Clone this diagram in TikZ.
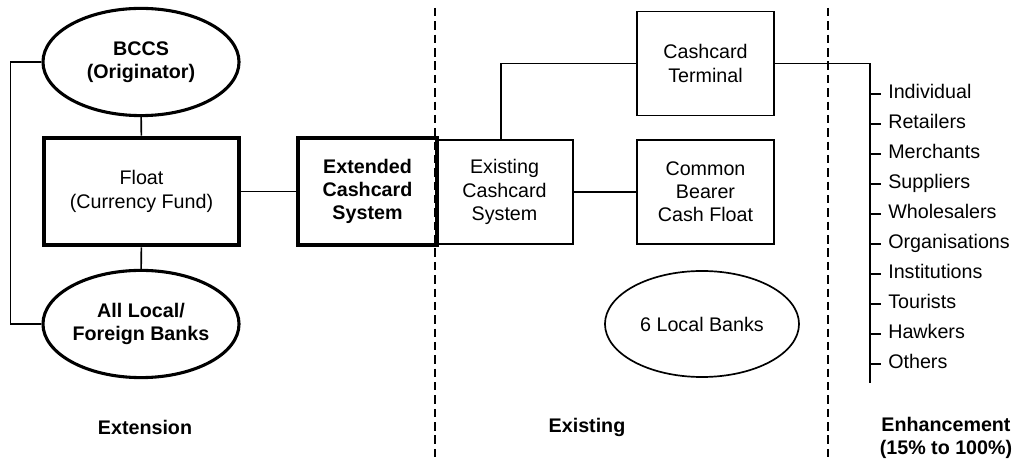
\documentclass[tikz,border=0pt]{standalone}
\usepackage{fontspec}
\setmainfont{Liberation Sans}
\usetikzlibrary{shapes.geometric}

\newcommand{\diagsize}{\fontsize{14}{16.5}\selectfont}
\tikzset{
  ovalbold/.style={draw,ellipse,line width=2.2pt,inner sep=0pt,minimum width=4.9cm,minimum height=2.68cm,align=center,font=\diagsize\bfseries},
  boxbold/.style={draw,rectangle,line width=3.2pt,inner sep=0pt,minimum height=2.68cm,align=center},
  boxthin/.style={draw,rectangle,line width=1.2pt,inner sep=0pt,minimum width=3.42cm,minimum height=2.6cm,align=center},
  ovalthin/.style={draw,ellipse,line width=1.2pt,inner sep=0pt,minimum width=4.85cm,minimum height=2.65cm},
  itemtext/.style={anchor=west,inner sep=0pt,text height=10pt,text depth=3pt},
  zonelabel/.style={font=\diagsize\bfseries,align=center,inner sep=0pt},
  link/.style={line width=1.1pt},
  zoneline/.style={line width=1.3pt,dash pattern=on 6pt off 3.5pt}
}

\begin{document}
\begin{tikzpicture}[x=0.025cm,y=-0.025cm,font=\diagsize]
\useasboundingbox (0,0) rectangle (1015,464);
% zone separators
\draw[zoneline] (435,8) -- (435,462);
\draw[zoneline] (828,8) -- (828,462);

% extension side
\node[ovalbold] (bccs) at (141,62) {BCCS\\(Originator)};
\node[boxbold,minimum width=4.875cm] (float) at (141.5,191.5) {Float\\(Currency Fund)};
\node[ovalbold] (allbanks) at (141,324) {All Local/\\Foreign Banks};
\node[boxbold,minimum width=3.47cm,font=\diagsize\bfseries] (extended) at (367.5,191.5) {Extended\\Cashcard\\System};

% existing side
\node[boxthin] (existing) at (504.5,192) {Existing\\Cashcard\\System};
\node[boxthin] (terminal) at (705.5,63.5) {Cashcard\\Terminal};
\node[boxthin] (common) at (705.5,192) {Common\\Bearer\\Cash Float};
\node[ovalthin] (localbanks) at (702,324) {6 Local Banks};

\draw[link] (bccs) -- (float);
\draw[link] (float) -- (allbanks);
\draw[link] (float) -- (extended);
\draw[link] (bccs.west) -- ++(-31,0) |- (allbanks.west);
\draw[link] (existing.north -| 501,0) |- (terminal.west);
\draw[link] (existing) -- (common);

% enhancement side
\coordinate (spinetop) at (870,62);
\coordinate (spineend) at (870,383);
\draw[link] (terminal.east) -| (spineend);
\foreach \who [count=\i] in {Individual,Retailers,Merchants,Suppliers,Wholesalers,Organisations,Institutions,Tourists,Hawkers,Others}{
  \node[itemtext] (grp\i) at (888,94+30*\i-30) {\who};
  \draw[link] (spinetop |- grp\i.west) -- ++(11,0);
}

% zone labels
\node[zonelabel] (extlabel) at (145,427) {Extension};
\node[zonelabel] (exilabel) at (587,427) {Existing};
\node[zonelabel] (enhlabel) at (946,438) {Enhancement\\(15\% to 100\%)};
\end{tikzpicture}
\end{document}
